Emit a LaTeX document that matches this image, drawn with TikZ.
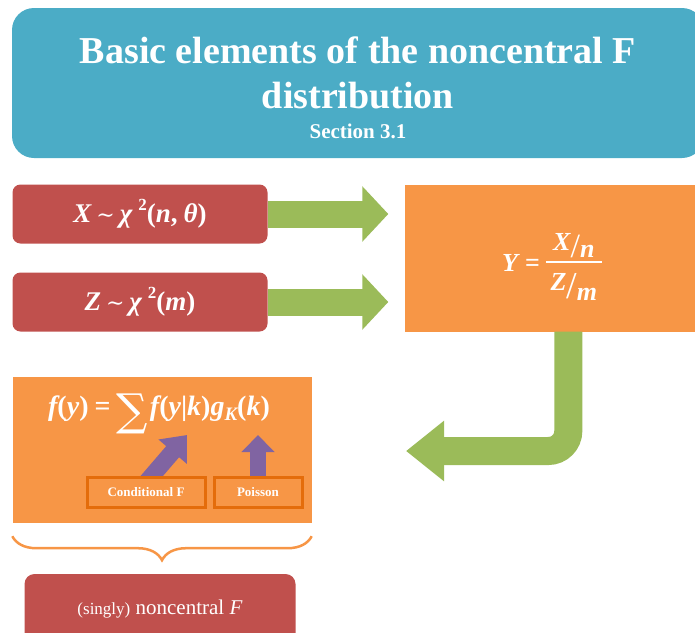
\documentclass[tikz,border=0pt]{standalone}
\usepackage{fontspec}
\setmainfont{Liberation Serif}
\newfontfamily\symfont{DejaVu Serif}
\usetikzlibrary{arrows.meta,decorations.pathreplacing}
\definecolor{tblue}{HTML}{4BACC6}
\definecolor{tred}{HTML}{C0504D}
\definecolor{tgreen}{HTML}{9BBB59}
\definecolor{torange}{HTML}{F79646}
\definecolor{tdorange}{HTML}{E46C0A}
\definecolor{tpurple}{HTML}{8064A2}
\newcommand\bi[1]{{\bfseries\itshape #1}}
\newcommand\bu[1]{{\bfseries #1}}
\newcommand\mytilde{\hspace{5pt}{\symfont\fontsize{22}{22}\selectfont ∼}\hspace{5pt}}
\newcommand\mysq{\hspace{6pt}\raisebox{0.45em}{\fontsize{17}{17}\selectfont\bu{2}}}
\newcommand\myFX{\bi{X}\mytilde\bi{χ}\mysq\bu{(}\bi{n}\bu{,}\hspace{6pt}\bi{θ}\bu{)}\hspace{6pt}}
\newcommand\myFZ{\bi{Z}\mytilde\bi{χ}\mysq\bu{(}\bi{m}\bu{)}}
\newcommand\myFY{\raisebox{-13pt}[0pt][0pt]{\bi{Y}\hspace{7pt}\bu{=}\hspace{6pt}%
  \makebox[56pt][c]{\rule[8pt]{56pt}{1.6pt}}\hspace{-56pt}%
  \makebox[56pt][c]{\raisebox{16pt}{\raisebox{5pt}{\bi{X}}{\fontsize{34}{34}\selectfont\raisebox{-2pt}{/}}\raisebox{-2pt}{\bi{n}}}}\hspace{-56pt}%
  \makebox[56pt][c]{\raisebox{-19pt}{\bi{Z}}\raisebox{-27pt}{\fontsize{38}{38}\selectfont /}\raisebox{-29pt}{\bi{m}}}}}
\newcommand\myFF{\bi{f}\bu{(}\bi{y}\bu{)}\hspace{6pt}\bu{=}\hspace{6pt}{\symfont\fontsize{44}{44}\selectfont\raisebox{-10pt}{∑}}\hspace{2pt}\bi{f}\bu{(}\bi{y}\bu{|}\bi{k}\bu{)}\bi{g}\raisebox{-5pt}{\fontsize{19}{19}\selectfont\bi{K}}\bu{(}\bi{k}\bu{)}}
\begin{document}
\begin{tikzpicture}[x=1pt,y=-1pt,
  titlebox/.style={fill=tblue, draw=none, rounded corners=22pt, minimum width=692pt, minimum height=150pt},
  titletext/.style={text=white, font=\bfseries\fontsize{38}{45}\selectfont, align=center, inner sep=0pt},
  subtext/.style={text=white, font=\bfseries\fontsize{21}{24}\selectfont, inner sep=0pt},
  redbox/.style={fill=tred, draw=none, rounded corners=8pt, text=white, minimum width=255pt, minimum height=59pt, font=\fontsize{27}{30}\selectfont},
  orangebox/.style={fill=torange, draw=none, text=white},
  smallbox/.style={fill=torange, draw=tdorange, line width=3pt, text=white, font=\bfseries\fontsize{13}{15}\selectfont, minimum height=30pt, inner sep=0pt},
  garrow/.style={draw=tgreen, line width=27pt, -{Triangle[length=26pt,width=54pt]}},
  bentarrow/.style={draw=tgreen, line width=28pt, rounded corners=20pt, -{Triangle[length=38pt,width=58pt]}},
  parrow/.style={draw=tpurple, line width=16pt, -{Triangle[length=17pt,width=32pt]}},
  pdarrow/.style={draw=tpurple, line width=17pt, -{Triangle[length=22pt,width=36pt]}},
  bracestyle/.style={draw=torange, line width=2.5pt, decorate, decoration={brace, amplitude=24pt, aspect=0.5}},
]
\useasboundingbox (0,0) rectangle (695,632);

% title
\node[titlebox] (title) at (358,83) {};
\node[titletext] (tline) at (358,73) {Basic elements of the noncentral F\\distribution};
\node[subtext] (tsub) at (358,131) {Section 3.1};

% inputs
\node[redbox] (xin) at (140,214) {\myFX};
\node[redbox] (zin) at (140,302) {\myFZ};

% Y box
\node[orangebox, minimum width=295pt, minimum height=147pt, font=\fontsize{26}{30}\selectfont] (Y) at (552,258) {\myFY};

% green arrows
\draw[garrow] (xin.east) -- ([xshift=-16pt]Y.west |- xin.east);
\draw[garrow] (zin.east) -- ([xshift=-16pt]Y.west |- zin.east);

% bent arrow
\coordinate (btip) at (406,451);
\draw[bentarrow] ([xshift=164pt]Y.south west) |- (btip);

% lower box
\node[orangebox, minimum width=299pt, minimum height=146pt] (fbox) at (162,450) {};
\node[text=white, font=\fontsize{28}{30}\selectfont, inner sep=0pt] (form) at (159,414) {\myFF};

\coordinate (ctip) at (187,435);
\coordinate (ptip) at (258,435);
\node[smallbox, minimum width=118pt] (condf) at (146,492) {};
\node[smallbox, minimum width=88pt] (pois) at (258,492) {};
\draw[pdarrow] ([xshift=1pt,yshift=-6pt]condf.north) -- (ctip);
\draw[parrow] ([yshift=-4pt]pois.north) -- (ptip);
\node[smallbox, minimum width=118pt] (condfl) at (condf) {Conditional F};
\node[smallbox, minimum width=88pt] (poisl) at (pois) {Poisson};

% brace
\draw[bracestyle] ([yshift=-13pt]fbox.south east) -- ([yshift=-13pt]fbox.south west);

% result
\node[redbox, rounded corners=10pt, minimum width=271pt, minimum height=70pt, font=\fontsize{21}{24}\selectfont] (res) at (160,609) {{\fontsize{17}{20}\selectfont (singly)} noncentral \textit{F}};
\end{tikzpicture}
\end{document}
